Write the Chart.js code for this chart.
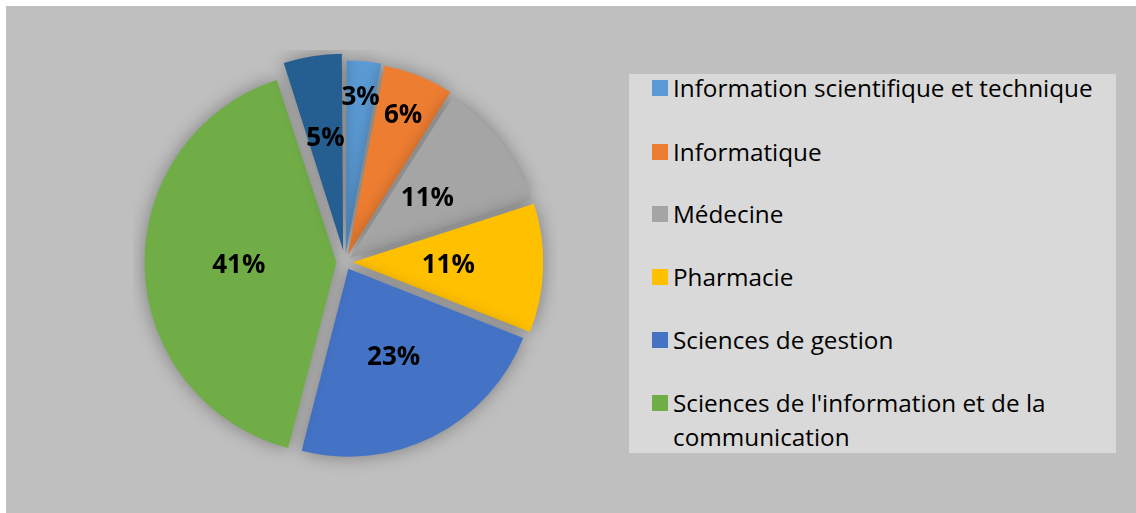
<!DOCTYPE html>
<html>
<head>
<meta charset="utf-8">
<script src="https://cdn.jsdelivr.net/npm/chart.js@4.4.1/dist/chart.umd.min.js"></script>
<style>
  body { margin: 0; background: #ffffff; }
  #frame {
    position: absolute; left: 6px; top: 6px; width: 1130px; height: 507px;
    background: #bfbfbf;
  }
  #pieBox { position: absolute; left: 127px; top: 44px; width: 424px; height: 424px; }
  #legend {
    position: absolute; left: 623px; top: 68px; width: 487px; height: 379px;
    background: #d9d9d9;
    font-family: "Open Sans", sans-serif; font-size: 24.3px; color: #000;
  }
  .item { position: absolute; left: 23px; display: flex; align-items: flex-start; }
  .box { width: 16px; height: 16px; margin-top: 9px; margin-right: 5px; flex: none; }
  .txt { line-height: 34px; width: 440px; }
</style>
</head>
<body>
<div id="frame">
  <div id="pieBox"><canvas id="pie-chart"></canvas></div>
  <div id="legend"></div>
</div>
<script>
// chart data
var categories = [
  "Information scientifique et technique",
  "Informatique",
  "Médecine",
  "Pharmacie",
  "Sciences de gestion",
  "Sciences de l'information et de la communication",
  "Autres"
];
var percents = [3, 6, 11, 11, 23, 41, 5];
var colors = ["#5b9bd5", "#ed7d31", "#a5a5a5", "#ffc000", "#4472c4", "#70ad47", "#255e91"];
var legendCount = 6; // only the first six show in the legend box

// legend (html, like the office chart)
var legendEl = document.getElementById("legend");
var rowTop = [-3, 61, 123, 186, 249, 312];
for (var i = 0; i < legendCount; i++) {
  var row = document.createElement("div");
  row.className = "item";
  row.style.top = rowTop[i] + "px";
  row.innerHTML = '<div class="box" style="background:' + colors[i] + '"></div><div class="txt"></div>';
  row.querySelector(".txt").textContent = categories[i];
  legendEl.appendChild(row);
}

// soft shadow under the slices
var shadowPlugin = {
  id: "pieShadow",
  beforeDatasetsDraw: function (chart) {
    var c = chart.ctx;
    c.save();
    c.shadowColor = "rgba(0,0,0,0.35)";
    c.shadowBlur = 18;
    c.shadowOffsetX = 0;
    c.shadowOffsetY = 0;
  },
  afterDatasetsDraw: function (chart) {
    chart.ctx.restore();
  }
};

// percent labels inside the slices
var labelPlugin = {
  id: "pctLabels",
  afterDraw: function (chart, args, opts) {
    var c = chart.ctx;
    var meta = chart.getDatasetMeta(0);
    c.save();
    c.font = "bold 26px 'Open Sans', sans-serif";
    c.fillStyle = "#000";
    c.textAlign = "center";
    c.textBaseline = "middle";
    meta.data.forEach(function (arc, i) {
      var p = arc.getProps(["x", "y", "startAngle", "endAngle", "outerRadius"]);
      var mid = (p.startAngle + p.endAngle) / 2;
      var shift = (arc.options.offset || 0) / 4;
      var r = p.outerRadius * opts.pos[i] + shift;
      c.fillText(percents[i] + "%", p.x + Math.cos(mid) * r, p.y + Math.sin(mid) * r);
    });
    c.restore();
  }
};

var ctx = document.getElementById("pie-chart").getContext("2d");
new Chart(ctx, {
  type: "pie",
  data: {
    labels: categories,
    datasets: [{
      data: percents,
      backgroundColor: colors,
      borderWidth: 0,
      offset: [30, 30, 26, 30, 30, 34, 48]
    }]
  },
  options: {
    responsive: true,
    maintainAspectRatio: false,
    animation: false,
    layout: { padding: 0 },
    plugins: {
      legend: { display: false },
      tooltip: { enabled: false },
      pctLabels: { pos: [0.84, 0.8, 0.52, 0.51, 0.53, 0.52, 0.6] }
    }
  },
  plugins: [shadowPlugin, labelPlugin]
});
</script>
</body>
</html>
